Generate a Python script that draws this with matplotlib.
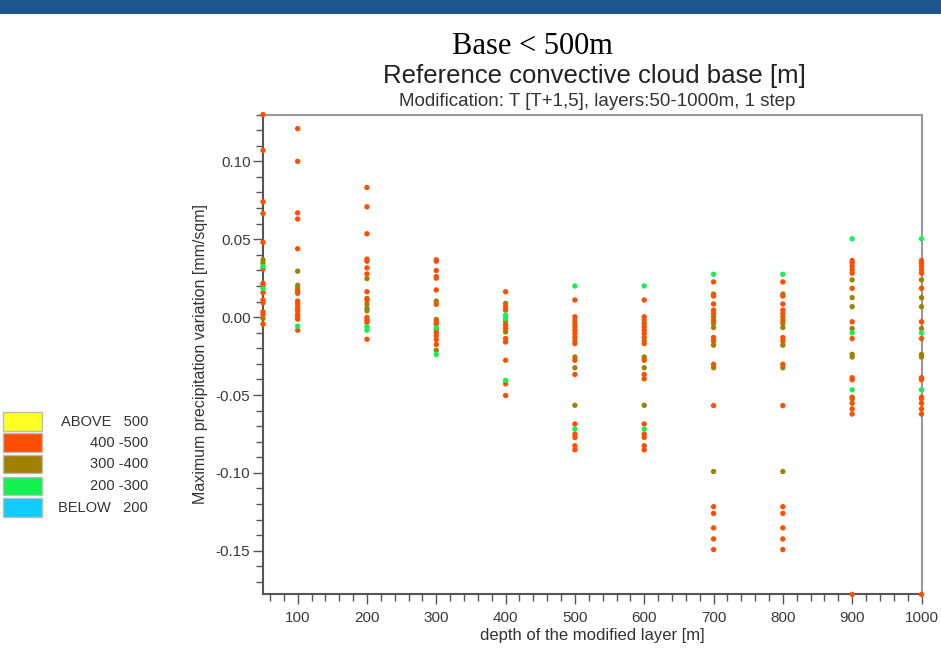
import matplotlib
matplotlib.use("Agg")
import matplotlib.pyplot as plt
from matplotlib.patches import Rectangle

# ---------------- data ----------------
depths = [50, 100, 200, 300, 400, 500, 600, 700, 800, 900, 1000]

# values per depth for class 400-500 (orange)
vals_400_500 = [
    [0.130, 0.107, 0.074, 0.0665, 0.048, 0.0308, 0.0217, 0.0202, 0.0157, 0.011, 0.0092, 0.0034, 0.0017, -0.0045],
    [0.121, 0.100, 0.0669, 0.063, 0.0439, 0.0168, 0.0153, 0.0103, 0.0084, 0.0062, 0.0041, 0.0017, 0.0002, -0.0013, -0.0084],
    [0.0832, 0.0708, 0.0535, 0.0372, 0.0359, 0.0316, 0.0277, 0.0163, 0.011, -0.0002, -0.002, -0.0034, -0.0142],
    [0.0368, 0.0359, 0.0299, 0.026, 0.025, 0.0174, 0.0082, -0.003, -0.0045, -0.008, -0.0099, -0.012, -0.0144, -0.0176],
    [0.0163, 0.0067, 0.0045, -0.0052, -0.0073, -0.0138, -0.016, -0.0277, -0.0428, -0.0503],
    [0.011, 0.0002, -0.004, -0.0062, -0.0084, -0.0105, -0.0131, -0.017, -0.0277, -0.0368, -0.0686, -0.0751, -0.0772, -0.0826, -0.0852],
    [0.011, 0.0002, -0.004, -0.0062, -0.0084, -0.0105, -0.0131, -0.017, -0.0277, -0.0368, -0.0396, -0.0686, -0.0751, -0.0772, -0.0826, -0.0852],
    [0.0226, 0.0135, 0.0084, 0.0045, 0.0024, -0.002, -0.0131, -0.0153, -0.0303, -0.0568, -0.1217, -0.126, -0.1353, -0.1424, -0.1492],
    [0.0226, 0.0135, 0.0084, 0.0045, 0.0024, -0.002, -0.0131, -0.0153, -0.0303, -0.0568, -0.1217, -0.126, -0.1353, -0.1424, -0.1492],
    [0.0363, 0.0346, 0.0325, 0.0303, 0.0282, 0.0185, -0.003, -0.0138, -0.0389, -0.0402, -0.0514, -0.0553, -0.0589, -0.0622, -0.178],
    [0.0363, 0.0346, 0.0325, 0.0303, 0.0282, 0.0185, -0.003, -0.0138, -0.0389, -0.0402, -0.0514, -0.0553, -0.0589, -0.0622, -0.178],
]

# values per depth for class 300-400 (olive)
vals_300_400 = [
    [0.0368, 0.0346, -0.0009],
    [0.0295, 0.0204, 0.0185, 0.005],
    [0.0247, 0.012, 0.0084, 0.0056, 0.004],
    [0.0103, -0.0015, -0.0213],
    [0.0088, -0.003, -0.0095],
    [-0.002, -0.0153, -0.0256, -0.0325, -0.0566],
    [-0.002, -0.0153, -0.0256, -0.0325, -0.0566],
    [0.0148, 0.0002, -0.004, -0.0067, -0.018, -0.0325, -0.0991],
    [0.0148, 0.0002, -0.004, -0.0067, -0.018, -0.0325, -0.0991],
    [0.0239, 0.0125, 0.0067, -0.0073, -0.0239, -0.0256, -0.0525],
    [0.0239, 0.0125, 0.0067, -0.0073, -0.0239, -0.0256, -0.0525],
]

# values per depth for class 200-300 (green)
vals_200_300 = [
    [0.0325, 0.0183],
    [-0.0058],
    [-0.0062, -0.0084],
    [-0.0069, -0.024],
    [0.0013, -0.0009, -0.0406],
    [0.020, -0.0719],
    [0.020, -0.0719],
    [0.0275],
    [0.0275],
    [0.0503, -0.0101, -0.0467],
    [0.0503, -0.0101, -0.0467],
]

legend_labels = ["ABOVE   500", "400 -500", "300 -400", "200 -300", "BELOW   200"]
legend_colors = ["#FFFF22", "#FF4E00", "#A08000", "#11F150", "#11CCFF"]

x_ticks = [100, 200, 300, 400, 500, 600, 700, 800, 900, 1000]
y_ticks = [-0.15, -0.10, -0.05, 0.00, 0.05, 0.10]

# ---------------- figure ----------------
W, H = 941, 649
fig = plt.figure(figsize=(W / 100, H / 100), dpi=100)
fig.patch.set_facecolor("white")

SANS = ["Liberation Sans", "DejaVu Sans"]

# top banner
fig.add_artist(Rectangle((0, 1 - 14 / H), 1, 14 / H, transform=fig.transFigure,
                         facecolor="#1E5690", edgecolor="none"))

ax = fig.add_axes([263 / W, (H - 594.4) / H, 658.5 / W, 479.8 / H])

def flat(vals):
    xs, ys = [], []
    for d, col in zip(depths, vals):
        xs.extend([d] * len(col))
        ys.extend(col)
    return xs, ys

for vals, color in [(vals_300_400, legend_colors[2]),
                    (vals_400_500, legend_colors[1]),
                    (vals_200_300, legend_colors[3])]:
    xs, ys = flat(vals)
    ax.scatter(xs, ys, s=15, color=color, edgecolors="none", clip_on=False, zorder=3)

ax.set_xlim(50, 1000)
ax.set_ylim(-0.178, 0.13)

ax.set_xticks(x_ticks)
ax.set_xticklabels([str(t) for t in x_ticks])
ax.set_xticks(list(range(60, 1000, 20)), minor=True)
ax.set_yticks(y_ticks)
ax.set_yticklabels(["%.2f" % t for t in y_ticks])
ax.set_yticks([i / 100 for i in range(-17, 14)], minor=True)

ax.tick_params(axis="both", which="major", direction="out", length=7, width=1.0,
               color="#555555", labelsize=11, labelcolor="#3a3a3a")
ax.tick_params(axis="x", which="major", pad=5)
ax.tick_params(axis="y", which="major", pad=2)
ax.tick_params(axis="both", which="minor", direction="out", length=5, width=1.0,
               color="#555555")
for lab in ax.get_xticklabels() + ax.get_yticklabels():
    lab.set_fontfamily(SANS)

for side in ["left", "bottom"]:
    ax.spines[side].set_color("#555555")
    ax.spines[side].set_linewidth(1.5)
for side in ["top", "right"]:
    ax.spines[side].set_color("#999999")
    ax.spines[side].set_linewidth(1.5)

ax.set_xlabel("depth of the modified layer [m]", fontsize=12, color="#333333",
              family=SANS, labelpad=2)
ax.set_ylabel("Maximum precipitation variation [mm/sqm]", fontsize=11.5,
              color="#333333", family=SANS, labelpad=6)

# titles
fig.text(532 / W, 1 - 46 / H, "Base < 500m", ha="center", va="center",
         fontsize=22, family=["Liberation Serif", "DejaVu Serif"], color="black")
fig.text(594 / W, 1 - 76 / H, "Reference convective cloud base [m]", ha="center",
         va="center", fontsize=18.5, family=SANS, color="#222222")
fig.text(597 / W, 1 - 102 / H, "Modification: T [T+1,5], layers:50-1000m, 1 step",
         ha="center", va="center", fontsize=13.5, family=SANS, color="#333333")

# legend
row_centers = [421.5, 442.7, 464, 486, 507.5]
for lab, col, yc in zip(legend_labels, legend_colors, row_centers):
    fig.add_artist(Rectangle((3 / W, 1 - (yc + 9.2) / H), 39 / W, 18.4 / H,
                             transform=fig.transFigure, facecolor=col,
                             edgecolor="#BBBBBB", linewidth=1.0))
    fig.text(148 / W, 1 - yc / H, lab, ha="right", va="center", fontsize=10.5,
             family=SANS, color="#333333")

fig.savefig("out.png", dpi=100)
